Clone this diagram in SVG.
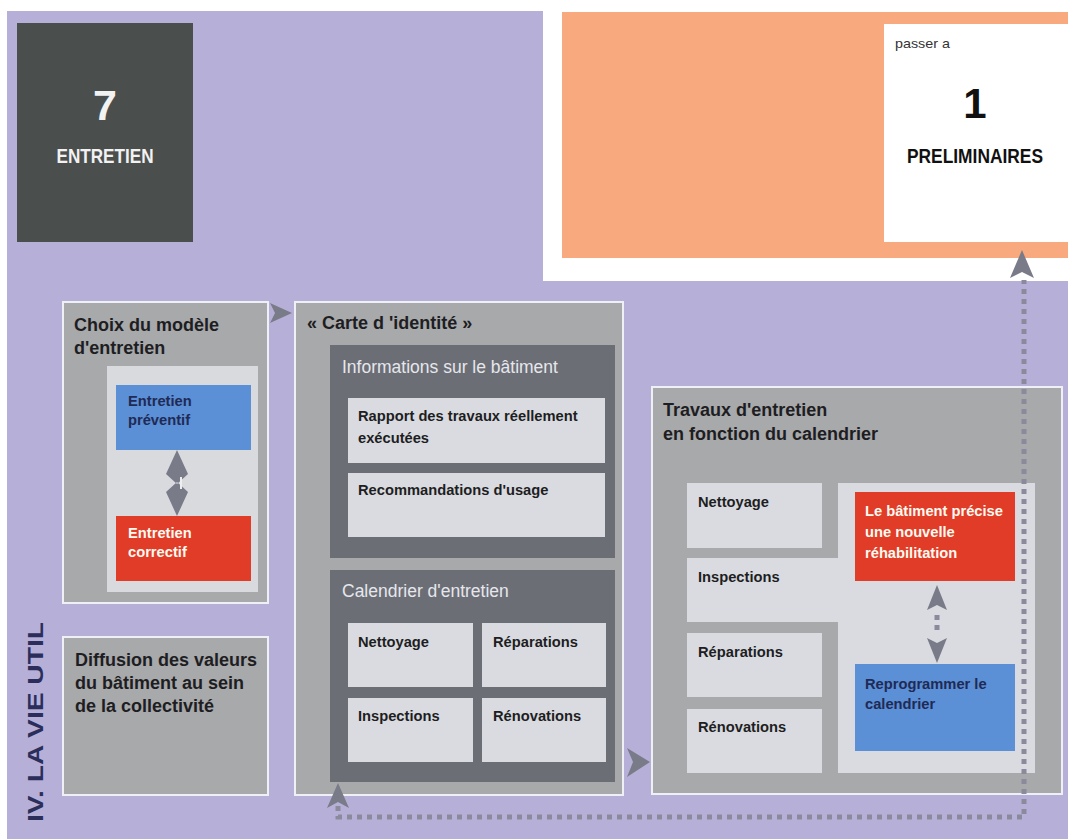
<svg xmlns="http://www.w3.org/2000/svg" width="1068" height="839" viewBox="0 0 1068 839">
<defs>
<style>
text{font-family:"Liberation Sans",Arial,sans-serif}
.box{fill:#a8a9ab;stroke:#eef0f6;stroke-width:2}
.dark{fill:#6c6e76}
.light{fill:#d9dbe1}
.t16{font-size:18px;fill:#1e1e22;font-weight:bold}
.t13{font-size:14.7px;fill:#1e1e22;font-weight:bold}
.tn{font-size:14.7px;fill:#1f2a55;font-weight:bold}
.tw{font-size:14.7px;fill:#fffaf0;font-weight:bold}
.th{font-size:17.5px;fill:#e6e7ec}
.dot{fill:none;stroke:#8a8a9c;stroke-width:5;stroke-dasharray:5 5}
</style>
</defs>
<rect width="1068" height="839" fill="#ffffff"/>
<rect x="7" y="11" width="1061" height="828" fill="#b6b0d8"/>
<rect x="543" y="0" width="525" height="281" fill="#ffffff"/>
<rect x="562" y="12" width="506" height="246" fill="#f8a97d"/>

<g id="n-entretien">
<rect x="17" y="23" width="176" height="219" fill="#4a4e4d"/>
<text x="105" y="120" text-anchor="middle" font-size="43" font-weight="bold" fill="#f2f2f2">7</text>
<text x="105" y="163" text-anchor="middle" font-size="20" font-weight="bold" fill="#f2f2f2" textLength="97" lengthAdjust="spacingAndGlyphs">ENTRETIEN</text>
</g>

<g id="n-preliminaires">
<rect x="884" y="24" width="184" height="218" fill="#ffffff"/>
<text x="895" y="48" font-size="13" fill="#333" textLength="55" lengthAdjust="spacingAndGlyphs">passer a</text>
<text x="975" y="118" text-anchor="middle" font-size="42" font-weight="bold" fill="#111">1</text>
<text x="975" y="163" text-anchor="middle" font-size="20" font-weight="bold" fill="#111" textLength="136" lengthAdjust="spacingAndGlyphs">PRELIMINAIRES</text>
</g>

<g id="n-choix">
<rect class="box" x="63" y="302" width="205" height="301"/>
<text class="t16" x="74" y="331">Choix du modèle</text>
<text class="t16" x="74" y="354">d'entretien</text>
<rect x="107" y="366" width="151" height="226" fill="#d8dade"/>
</g>
<g id="n-preventif">
<rect x="116" y="385" width="135" height="65" fill="#5b8fd6"/>
<text class="tn" x="128" y="406">Entretien</text>
<text class="tn" x="128" y="425">préventif</text>
</g>
<g id="n-correctif">
<rect x="116" y="516" width="135" height="65" fill="#e03c28"/>
<text class="tw" x="128" y="538">Entretien</text>
<text class="tw" x="128" y="557">correctif</text>
</g>

<g id="n-diffusion">
<rect class="box" x="63" y="637" width="205" height="158"/>
<text class="t16" x="75" y="666">Diffusion des valeurs</text>
<text class="t16" x="75" y="689">du bâtiment au sein</text>
<text class="t16" x="75" y="712">de la collectivité</text>
</g>

<g id="n-carte">
<rect class="box" x="295" y="302" width="328" height="493"/>
<text class="t16" x="307" y="329">« Carte d 'identité »</text>
</g>
<g id="n-informations">
<rect class="dark" x="330" y="345" width="285" height="213"/>
<text class="th" x="342" y="373">Informations sur le bâtiment</text>
<rect class="light" x="348" y="398" width="257" height="65"/>
<text class="t13" x="358" y="421">Rapport des travaux réellement</text>
<text class="t13" x="358" y="443">exécutées</text>
<rect class="light" x="348" y="473" width="257" height="64"/>
<text class="t13" x="358" y="495">Recommandations d'usage</text>
</g>
<g id="n-calendrier">
<rect class="dark" x="330" y="570" width="285" height="212"/>
<text class="th" x="342" y="597">Calendrier d'entretien</text>
<rect class="light" x="348" y="623" width="125" height="64"/>
<text class="t13" x="358" y="647">Nettoyage</text>
<rect class="light" x="482" y="623" width="124" height="64"/>
<text class="t13" x="493" y="647">Réparations</text>
<rect class="light" x="348" y="698" width="125" height="64"/>
<text class="t13" x="358" y="721">Inspections</text>
<rect class="light" x="482" y="698" width="124" height="64"/>
<text class="t13" x="493" y="721">Rénovations</text>
</g>

<g id="n-travaux">
<rect class="box" x="652" y="387" width="410" height="407"/>
<text class="t16" x="663" y="416">Travaux d'entretien</text>
<text class="t16" x="663" y="440">en fonction du calendrier</text>
<rect class="light" x="687" y="483" width="135" height="65"/>
<text class="t13" x="698" y="507">Nettoyage</text>
<path class="light" d="M838,483 H1035 V773 H838 V622 H687 V558 H838 Z"/>
<text class="t13" x="698" y="582">Inspections</text>
<rect class="light" x="687" y="633" width="135" height="64"/>
<text class="t13" x="698" y="657">Réparations</text>
<rect class="light" x="687" y="709" width="135" height="64"/>
<text class="t13" x="698" y="732">Rénovations</text>
</g>
<g id="n-rehab">
<rect x="855" y="492" width="160" height="89" fill="#e03c28"/>
<text class="tw" x="865" y="516">Le bâtiment précise</text>
<text class="tw" x="865" y="537">une nouvelle</text>
<text class="tw" x="865" y="558">réhabilitation</text>
</g>
<g id="n-reprog">
<rect x="855" y="664" width="160" height="87" fill="#5b8fd6"/>
<text class="tn" x="865" y="689">Reprogrammer le</text>
<text class="tn" x="865" y="709">calendrier</text>
</g>

<g id="label-vie">
<text transform="translate(43,822) rotate(-90)" font-size="22" font-weight="bold" fill="#2b2d5a" textLength="200" lengthAdjust="spacingAndGlyphs">IV. LA VIE UTIL</text>
</g>

<g id="connectors">
<path d="M177,450 L188,474 L177,484 L166,474 Z M177,516 L188,492 L177,482 L166,492 Z" fill="#7a7b88"/>
<path d="M181,477 L181,489" stroke="#eeeeee" stroke-width="2"/>
<path d="M270,303 L292,313 L270,323 L275,313 Z" fill="#7a7b88"/>
<path d="M627,748 L650,762 L627,777 L633,762 Z" fill="#7a7b88"/>
<path class="dot" d="M338,806 V817 H1024 V280"/>
<path d="M338,783 L349,808 L338,802 L327,808 Z" fill="#7a7b88"/>
<path d="M1022,250 L1034,278 L1022,272 L1010,278 Z" fill="#7a7b88"/>
<path d="M937,585 L947,610 L937,605 L927,610 Z" fill="#7a7b88"/>
<path d="M937,615 V633" stroke="#8a8a9c" stroke-width="5" stroke-dasharray="5 5" fill="none"/>
<path d="M937,663 L947,638 L937,643 L927,638 Z" fill="#7a7b88"/>
</g>
</svg>
